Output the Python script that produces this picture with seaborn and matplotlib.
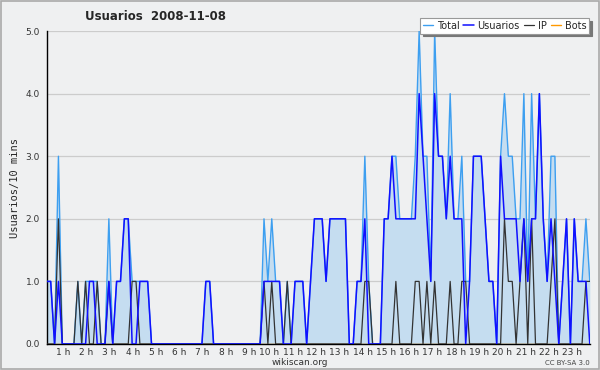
import numpy as np
import pandas as pd
import seaborn as sns
import matplotlib.pyplot as plt
from matplotlib.patches import Rectangle
import matplotlib.transforms as mtransforms

# valores cada 10 minutos (2008-11-08)
total = [1, 1, 0, 3, 0, 0, 0, 0, 1, 0, 1, 1, 1, 1, 0, 0, 2, 0, 1, 1,
         2, 2, 1, 1, 1, 1, 1, 0, 0, 0, 0, 0, 0, 0, 0, 0, 0, 0, 0, 0,
         0, 1, 1, 0, 0, 0, 0, 0, 0, 0, 0, 0, 0, 0, 0, 0, 2, 1, 2, 1,
         1, 0, 1, 0, 1, 1, 1, 0, 1, 2, 2, 2, 1, 2, 2, 2, 2, 2, 0, 0,
         1, 1, 3, 1, 0, 0, 0, 2, 2, 3, 3, 2, 2, 2, 2, 3, 5, 3, 3, 1,
         5, 3, 3, 2, 4, 2, 2, 3, 1, 1, 3, 3, 3, 2, 1, 1, 0, 3, 4, 3,
         3, 2, 2, 4, 1, 4, 2, 4, 2, 1, 3, 3, 0, 1, 2, 0, 2, 1, 1, 2,
         1]
usuarios = [1, 1, 0, 1, 0, 0, 0, 0, 0, 0, 0, 1, 1, 0, 0, 0, 1, 0, 1, 1,
            2, 2, 0, 0, 1, 1, 1, 0, 0, 0, 0, 0, 0, 0, 0, 0, 0, 0, 0, 0,
            0, 1, 1, 0, 0, 0, 0, 0, 0, 0, 0, 0, 0, 0, 0, 0, 1, 1, 1, 1,
            1, 0, 0, 0, 1, 1, 1, 0, 1, 2, 2, 2, 1, 2, 2, 2, 2, 2, 0, 0,
            1, 1, 2, 0, 0, 0, 0, 2, 2, 3, 2, 2, 2, 2, 2, 2, 4, 3, 2, 1,
            4, 3, 3, 2, 3, 2, 2, 2, 0, 1, 3, 3, 3, 2, 1, 1, 0, 3, 2, 2,
            2, 2, 1, 2, 1, 2, 2, 4, 2, 1, 2, 1, 0, 1, 2, 0, 2, 1, 1, 1,
            0]
ip = [0, 0, 0, 2, 0, 0, 0, 0, 1, 0, 1, 0, 0, 1, 0, 0, 1, 0, 0, 0,
      0, 0, 1, 1, 0, 0, 0, 0, 0, 0, 0, 0, 0, 0, 0, 0, 0, 0, 0, 0,
      0, 0, 0, 0, 0, 0, 0, 0, 0, 0, 0, 0, 0, 0, 0, 0, 1, 0, 1, 0,
      0, 0, 1, 0, 0, 0, 0, 0, 0, 0, 0, 0, 0, 0, 0, 0, 0, 0, 0, 0,
      0, 0, 1, 1, 0, 0, 0, 0, 0, 0, 1, 0, 0, 0, 0, 1, 1, 0, 1, 0,
      1, 0, 0, 0, 1, 0, 0, 1, 1, 0, 0, 0, 0, 0, 0, 0, 0, 0, 2, 1,
      1, 0, 1, 2, 0, 2, 0, 0, 0, 0, 1, 2, 0, 0, 0, 0, 0, 0, 0, 1,
      1]
bots = [0] * len(total)
horas = [f"{h} h" for h in range(1, 24)]

df = pd.DataFrame({'t': range(len(total)), 'Total': total, 'Usuarios': usuarios,
                   'IP': ip, 'Bots': bots})

sns.set_style('white')
plt.rcParams['font.family'] = ['DejaVu Sans']
bg = '#eff0f1'

fig = plt.figure(figsize=(6, 3.7), dpi=100, facecolor=bg)
ax = fig.add_axes([0.078, 0.0703, 0.905, 0.8457])
ax.set_facecolor(bg)

ax.fill_between(df['t'], df['Total'], color='#c5ddf0', lw=0, zorder=1)
sns.lineplot(data=df, x='t', y='Total', color='#3d9ff0', lw=1, ax=ax, label='Total', zorder=3)
sns.lineplot(data=df, x='t', y='IP', color='#333333', lw=0.9, ax=ax, label='IP', zorder=4)
sns.lineplot(data=df, x='t', y='Usuarios', color='#1010ff', lw=1.1, ax=ax, label='Usuarios', zorder=5)
sns.lineplot(data=df, x='t', y='Bots', color='#ff9900', lw=1, ax=ax, label='Bots', zorder=2)

ax.set_xlim(0, len(total) - 1)
ax.set_ylim(0, 5)
ax.set_yticks(np.arange(0, 5.01, 1))
ax.set_yticklabels([f"{v:.1f}" for v in range(6)], fontsize=6.5, color='#333333')
ax.set_yticks(np.arange(0, 5.01, 0.2), minor=True)
ax.yaxis.grid(True, color='#cccccc', lw=0.9)
ax.set_axisbelow(True)

ax.set_xticks(range(len(total)))
ax.set_xticklabels([horas[i // 6 - 1] if i % 6 == 0 and 0 < i < 144 else '' for i in range(len(total))],
                   fontsize=6.5, color='#333333')
off = mtransforms.ScaledTranslation(-2 / 100, 0, fig.dpi_scale_trans)
for lab in ax.get_xticklabels():
    lab.set_horizontalalignment('right')
    lab.set_transform(lab.get_transform() + off)
ax.tick_params(axis='x', length=3, width=0.8, pad=0, color='black')
ax.tick_params(axis='y', which='major', length=4, width=0.8, pad=1, color='black')
ax.tick_params(axis='y', which='minor', length=3, width=0.8, color='black')

for s in ['top', 'right']:
    ax.spines[s].set_visible(False)
for s in ['left', 'bottom']:
    ax.spines[s].set_color('black')
    ax.spines[s].set_linewidth(1)

ax.set_xlabel('')
ax.set_ylabel('Usuarios/10 mins', fontsize=7.5, family='DejaVu Sans Mono', labelpad=4)

h, l = ax.get_legend_handles_labels()
order = [l.index(n) for n in ['Total', 'Usuarios', 'IP', 'Bots']]
leg = ax.legend([h[i] for i in order], [l[i] for i in order], ncol=4, fontsize=7,
                loc='upper right', bbox_to_anchor=(0.982, 0.952), bbox_transform=fig.transFigure,
                frameon=True, fancybox=False, shadow={'color': '#777777', 'alpha': 1},
                handlelength=1.1, handletextpad=0.35, columnspacing=0.4, borderpad=0.3,
                borderaxespad=0)
leg.get_frame().set_edgecolor('#999999')
leg.get_frame().set_linewidth(0.8)
leg.set_zorder(10)

fig.text(0.142, 0.955, 'Usuarios  2008-11-08', fontsize=8.5, fontweight='bold', va='center')
fig.text(0.5, 0.02, 'wikiscan.org', fontsize=6.5, color='#333333', ha='center', va='center')
fig.text(0.983, 0.02, 'CC BY-SA 3.0', fontsize=5, color='#444444', ha='right', va='center')
fig.patches.append(Rectangle((0.001, 0.002), 0.997, 0.995, transform=fig.transFigure,
                             fill=False, edgecolor='#aaaaaa', lw=1.2))

fig.savefig('out.png', dpi=100, facecolor=bg)
